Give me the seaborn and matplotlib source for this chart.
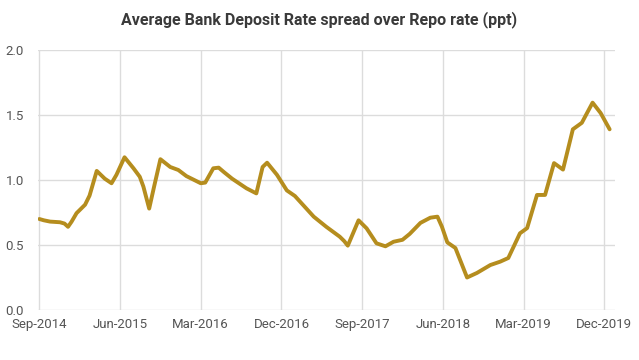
import matplotlib
matplotlib.use("Agg")
import matplotlib.pyplot as plt
import seaborn as sns
import pandas as pd

# months elapsed since Sep-2014 (fortnightly-ish readings) and spread in ppt
months = [0.0, 0.5, 1.2, 2.3, 2.8, 3.2, 3.6, 4.15, 5.1, 5.6, 6.4, 7.3, 8.05, 8.6,
          9.5, 10.5, 11.2, 11.6, 12.25, 12.8, 13.5, 14.6, 15.5, 16.4, 18.0, 18.5,
          19.4, 20.0, 20.6, 21.5, 23.1, 24.2, 24.9, 25.4, 26.5, 27.6, 28.5, 30.6,
          32.0, 33.5, 34.0, 34.4, 35.6, 36.5, 37.6, 38.6, 39.5, 40.5, 41.3, 42.5,
          43.6, 44.4, 44.9, 45.5, 46.4, 47.7, 48.8, 50.3, 51.4, 52.3, 53.6, 54.4,
          55.5, 56.4, 57.4, 58.4, 59.5, 60.5, 61.7, 62.6, 63.6]
spread = [0.70, 0.69, 0.68, 0.675, 0.665, 0.64, 0.68, 0.745, 0.81, 0.88, 1.07, 1.01, 0.975, 1.04,
          1.175, 1.09, 1.025, 0.95, 0.78, 0.95, 1.16, 1.10, 1.077, 1.03, 0.975, 0.98,
          1.09, 1.095, 1.06, 1.01, 0.936, 0.897, 1.10, 1.133, 1.04, 0.92, 0.877, 0.718,
          0.64, 0.564, 0.53, 0.495, 0.69, 0.628, 0.513, 0.49, 0.525, 0.54, 0.585, 0.67,
          0.71, 0.718, 0.64, 0.52, 0.477, 0.25, 0.285, 0.346, 0.372, 0.40, 0.59, 0.63,
          0.885, 0.885, 1.13, 1.08, 1.39, 1.44, 1.595, 1.515, 1.39]
tick_labels = ["Sep-2014", "Jun-2015", "Mar-2016", "Dec-2016", "Sep-2017",
               "Jun-2018", "Mar-2019", "Dec-2019"]
y_ticks = [0.0, 0.5, 1.0, 1.5, 2.0]

df = pd.DataFrame({"month": months, "spread": spread})

sns.set_style("white")
plt.rcParams["font.family"] = ["Roboto", "DejaVu Sans"]

fig = plt.figure(figsize=(6.39, 3.6), dpi=100)
ax = fig.add_axes([38 / 639, 50 / 360, (615 - 38) / 639, 260 / 360])

sns.lineplot(data=df, x="month", y="spread", ax=ax, color="#B58D1E",
             linewidth=2.8, solid_joinstyle="round", solid_capstyle="round")

ax.set_xlim(-0.15, 64.2)
ax.set_ylim(0, 2.0)
ax.set_xticks(range(0, 64, 9))
ax.set_xticklabels(tick_labels)
ax.set_yticks(y_ticks)
ax.set_yticklabels([f"{v:.1f}" for v in y_ticks])
ax.grid(True, color="#dcdcdc", linewidth=1)
ax.set_axisbelow(True)
for s in ax.spines.values():
    s.set_visible(False)
ax.tick_params(axis="both", length=0, labelsize=9.5, colors="#555555")
ax.tick_params(axis="x", pad=6)
ax.tick_params(axis="y", pad=10)
ax.set_xlabel("")
ax.set_ylabel("")

fig.text(0.5, 1 - 20 / 360, "Average Bank Deposit Rate spread over Repo rate (ppt)",
         ha="center", va="center", fontsize=11.5, fontweight="bold", color="#3a3a3a")

fig.savefig("out.png", dpi=100)
